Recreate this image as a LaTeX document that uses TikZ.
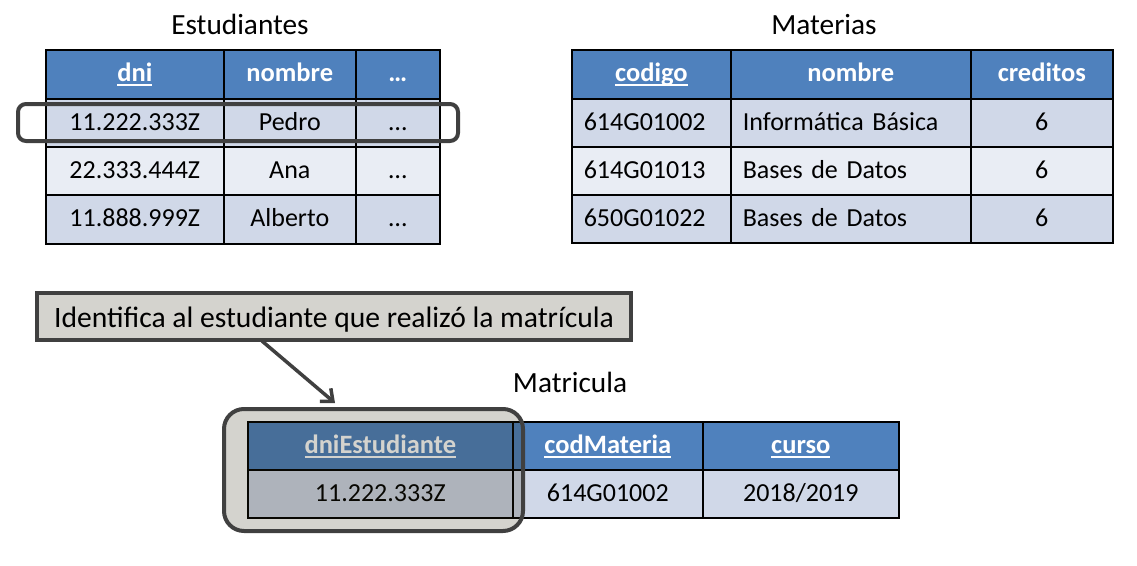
\documentclass[tikz,border=0pt]{standalone}
\usepackage{fontspec}
\setmainfont{Carlito}
\usetikzlibrary{arrows.meta}
\definecolor{hdr}{HTML}{4F81BD}
\definecolor{rowA}{HTML}{D0D8E8}
\definecolor{rowB}{HTML}{E9EDF4}
\definecolor{dark}{HTML}{404040}
\definecolor{callfill}{HTML}{D4D3CE}
\definecolor{shade}{HTML}{28230A}
\newcommand\ulx[1]{\setbox0\hbox{#1}\rlap{\vrule width \wd0 height -2.6pt depth 4.8pt}\box0}
\newcommand\tcell[7]{\node[#6, minimum width=#4pt, minimum height=#5pt] (#1) at (#2,#3) {#7};}
\newcommand\lcell[8]{\node[#6, minimum width=#4pt, minimum height=#5pt, inner xsep=12pt, text width=#8pt, align=left] (#1) at (#2,#3) {#7};}
\tikzset{
  cellbase/.style={draw=black, line width=1.6pt, inner sep=0pt, anchor=north west,
    font=\fontsize{26}{30}\selectfont, text=black, text height=17.5pt, text depth=3pt},
  hcell/.style={cellbase, fill=hdr, text=white, font=\fontsize{26.5}{30}\selectfont\bfseries},
  cellA/.style={cellbase, fill=rowA},
  cellB/.style={cellbase, fill=rowB},
  title/.style={anchor=base, font=\fontsize{29.3}{34}\selectfont, inner sep=0pt},
  callout/.style={draw=dark, line width=4pt, fill=callfill, inner sep=0pt,
    font=\fontsize{29.6}{34}\selectfont, text height=24pt, text depth=3pt},
  selbox/.style={draw=dark, line width=4pt, inner sep=0pt},
  pointer/.style={draw=dark, line width=3.5pt, -{Straight Barb[length=10pt,width=17pt]}}
}
\begin{document}
\begin{tikzpicture}[x=1pt,y=-1pt]
\useasboundingbox (0,0) rectangle (1137,565);
% ---------- Estudiantes ----------
\node[title] (tEst) at (240,34) {Estudiantes};
\tcell{e11}{45}{49}{178}{49}{hcell}{\ulx{dni}}
\tcell{e12}{223}{49}{132}{49}{hcell}{nombre}
\tcell{e13}{355}{49}{84}{49}{hcell}{…}
\tcell{e21}{45}{98}{178}{48}{cellA}{11.222.333Z}
\tcell{e22}{223}{98}{132}{48}{cellA}{Pedro}
\tcell{e23}{355}{98}{84}{48}{cellA}{…}
\tcell{e31}{45}{146}{178}{48}{cellB}{22.333.444Z}
\tcell{e32}{223}{146}{132}{48}{cellB}{Ana}
\tcell{e33}{355}{146}{84}{48}{cellB}{…}
\tcell{e41}{45}{194}{178}{49}{cellA}{11.888.999Z}
\tcell{e42}{223}{194}{132}{49}{cellA}{Alberto}
\tcell{e43}{355}{194}{84}{49}{cellA}{…}
\node[selbox, minimum width=440pt, minimum height=37pt, rounded corners=8pt] (selrow) at (238,122.5) {};
% ---------- Materias ----------
\node[title] (tMat) at (824,34) {Materias};
\tcell{m11}{571}{49}{159}{49}{hcell}{\ulx{codigo}}
\tcell{m12}{730}{49}{240}{49}{hcell}{nombre}
\tcell{m13}{970}{49}{142}{49}{hcell}{creditos}
\lcell{m21}{571}{98}{159}{48}{cellA}{614G01002}{135}
\lcell{m22}{730}{98}{240}{48}{cellA}{Informática Básica}{216}
\tcell{m23}{970}{98}{142}{48}{cellA}{6}
\lcell{m31}{571}{146}{159}{48}{cellB}{614G01013}{135}
\lcell{m32}{730}{146}{240}{48}{cellB}{Bases de Datos}{216}
\tcell{m33}{970}{146}{142}{48}{cellB}{6}
\lcell{m41}{571}{194}{159}{48}{cellA}{650G01022}{135}
\lcell{m42}{730}{194}{240}{48}{cellA}{Bases de Datos}{216}
\tcell{m43}{970}{194}{142}{48}{cellA}{6}
% ---------- Callout ----------
\node[callout, minimum width=594pt, minimum height=47pt] (note) at (334,316.5) {Identifica al estudiante que realizó la matrícula};
% ---------- Matricula ----------
\node[title] (tMatr) at (570,392) {Matricula};
\tcell{r11}{247}{421}{265}{48}{hcell}{\ulx{dniEstudiante}}
\tcell{r12}{512}{421}{190}{48}{hcell}{\ulx{codMateria}}
\tcell{r13}{702}{421}{196}{48}{hcell}{\ulx{curso}}
\tcell{r21}{247}{469}{265}{48}{cellA}{11.222.333Z}
\tcell{r22}{512}{469}{190}{48}{cellA}{614G01002}
\tcell{r23}{702}{469}{196}{48}{cellA}{2018/2019}
\node[selbox, fill=shade, fill opacity=0.2, rounded corners=20pt, minimum width=299pt, minimum height=122pt] (dnihl) at (373.5,470) {};
% ---------- Pointer ----------
\coordinate (pS) at (262,341);
\coordinate (pE) at (335,403);
\draw[pointer] (pS) -- (pE);
\end{tikzpicture}
\end{document}
